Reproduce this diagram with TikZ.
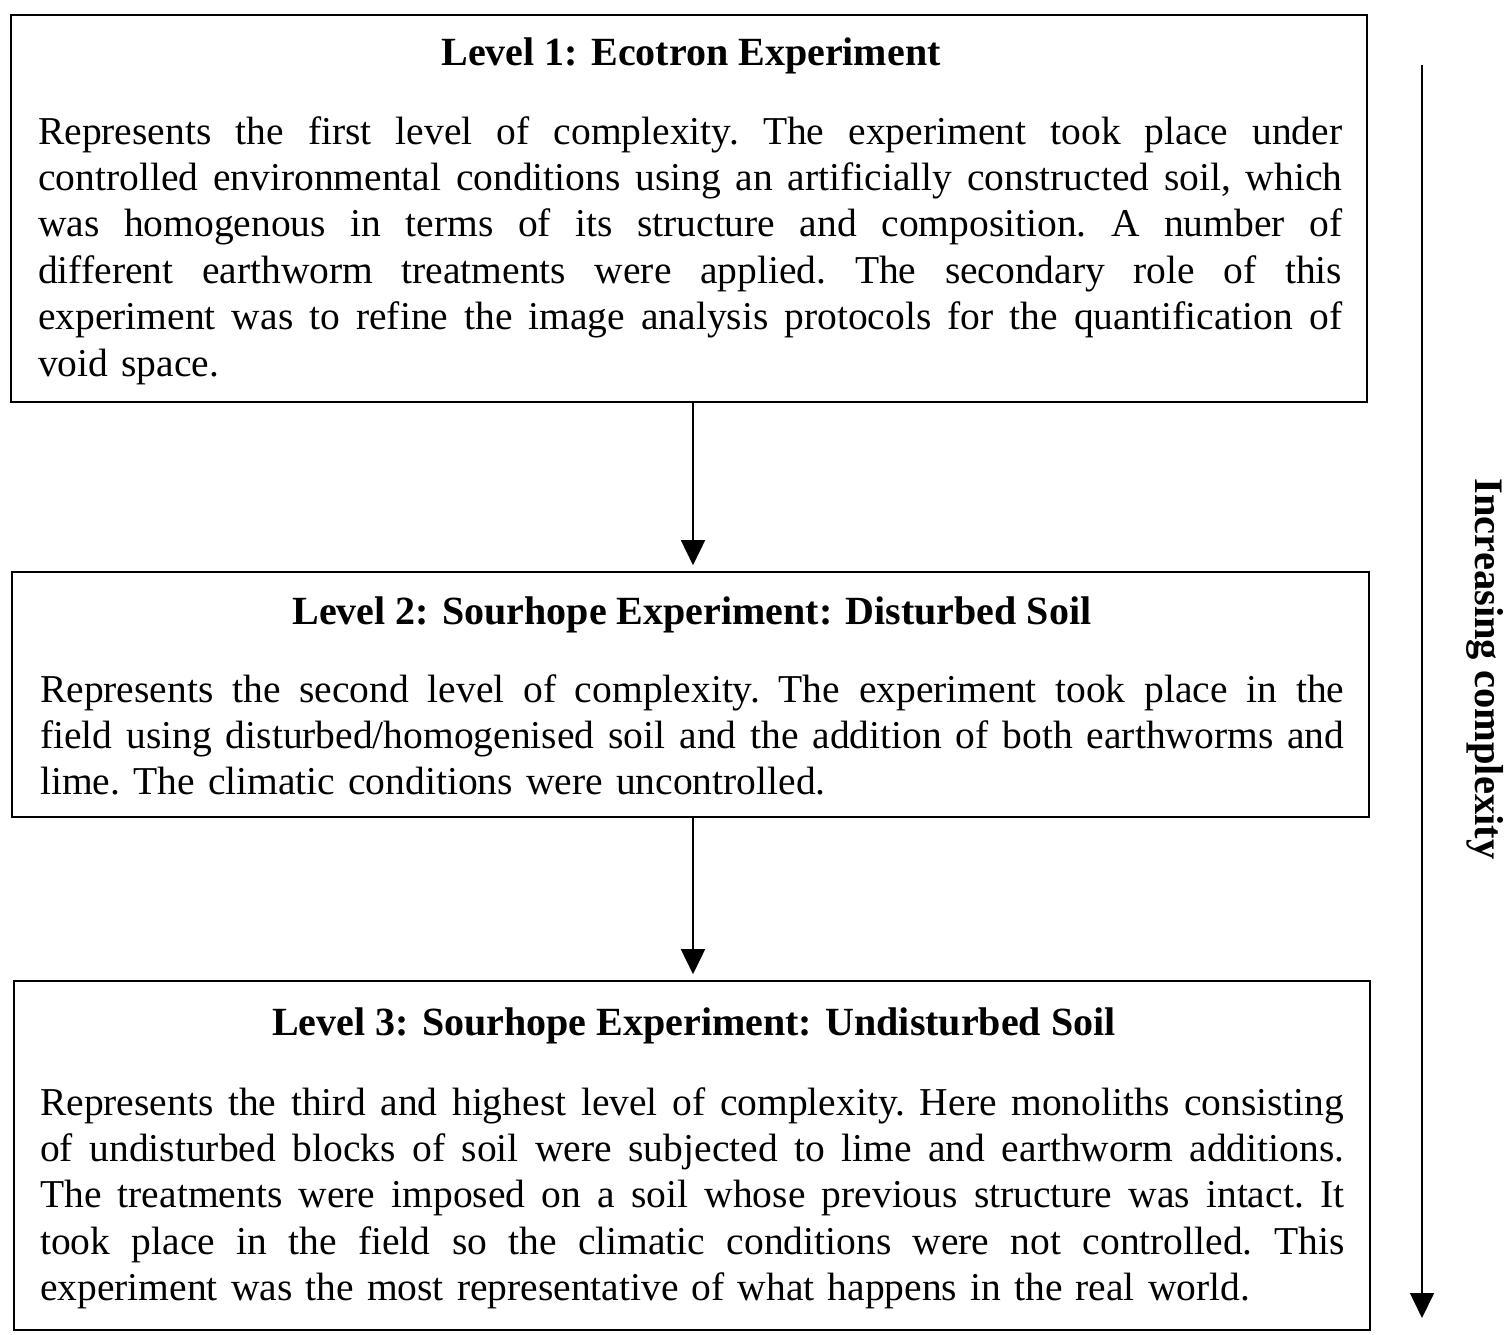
\documentclass[tikz,border=0pt]{standalone}
\usepackage{fontspec}
\setmainfont{Liberation Serif}
\usetikzlibrary{arrows.meta}
\newcommand{\jl}[1]{\leavevmode\hbox to 1304pt{\spaceskip=0pt\xspaceskip=0pt #1}}
\begin{document}
\begin{tikzpicture}[x=1pt,y=1pt,
  box/.style={draw,line width=1.6pt,inner sep=0pt},
  ttl/.style={font=\fontsize{40}{46}\selectfont\bfseries,anchor=center},
  body/.style={font=\fontsize{39.5}{46.4}\selectfont\frenchspacing,text width=#1,align=left,anchor=north west,inner sep=0pt},
  arr/.style={line width=1.6pt,-{Triangle[length=25pt,width=24pt]}}]
\useasboundingbox (0,0) rectangle (1512,-1335);
\node[box,minimum width=1356pt,minimum height=387pt] (b1) at (689,-208.5) {};
\node[box,minimum width=1357pt,minimum height=245pt] (b2) at (690.5,-694.5) {};
\node[box,minimum width=1356pt,minimum height=349pt] (b3) at (692,-1155.5) {};
\node[ttl] (t1) at (691,-56) {Level 1: Ecotron Experiment};
\node[body=1304pt] (x1) at (38,-116) {\jl{Represents the first level of complexity. The experiment took place under}\\
\jl{controlled environmental conditions using an artificially constructed soil, which}\\
\jl{was homogenous in terms of its structure and composition. A number of}\\
\jl{different earthworm treatments were applied. The secondary role of this}\\
\jl{experiment was to refine the image analysis protocols for the quantification of}\\
void space.};
\node[ttl] (t2) at (692,-615) {Level 2: Sourhope Experiment: Disturbed Soil};
\node[body=1304pt] (x2) at (40,-674) {\jl{Represents the second level of complexity. The experiment took place in the}\\
\jl{field using disturbed/homogenised soil and the addition of both earthworms and}\\
lime. The climatic conditions were uncontrolled.};
\node[ttl] (t3) at (694,-1026) {Level 3: Sourhope Experiment: Undisturbed Soil};
\node[body=1304pt] (x3) at (40,-1087) {\jl{Represents the third and highest level of complexity. Here monoliths consisting}\\
\jl{of undisturbed blocks of soil were subjected to lime and earthworm additions.}\\
\jl{The treatments were imposed on a soil whose previous structure was intact. It}\\
\jl{took place in the field so the climatic conditions were not controlled. This}\\
experiment was the most representative of what happens in the real world.};
\draw[arr] ([xshift=4pt]b1.south) -- ([xshift=2.5pt,yshift=6pt]b2.north);
\draw[arr] ([xshift=2.5pt]b2.south) -- ([xshift=1pt,yshift=6pt]b3.north);
\coordinate (ca) at (1422,-65);
\coordinate (cb) at (1422,-1318);
\draw[arr] (ca) -- (cb);
\node[font=\fontsize{40.5}{46}\selectfont\bfseries,rotate=-90] (lab) at (1485,-669) {Increasing complexity};
\end{tikzpicture}
\end{document}
